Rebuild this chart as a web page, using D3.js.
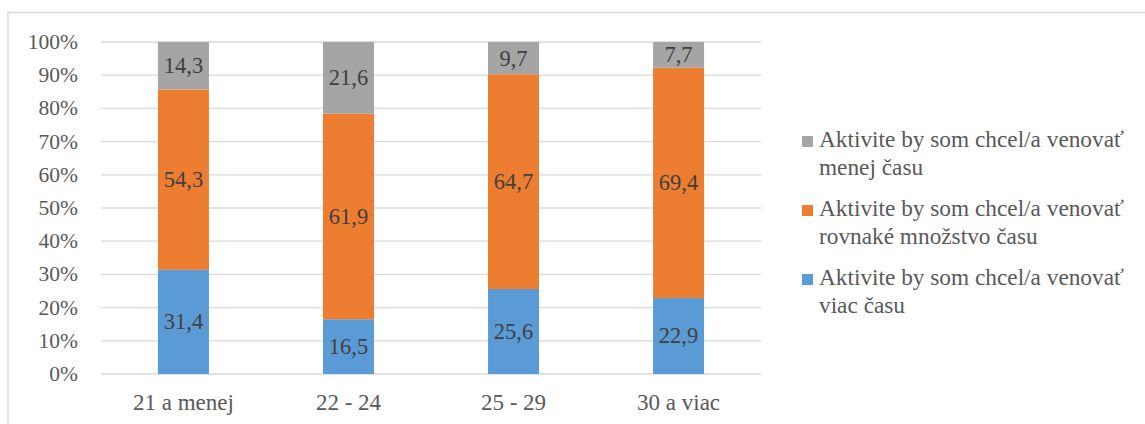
<!DOCTYPE html>
<html><head><meta charset="utf-8">
<script src="https://cdn.jsdelivr.net/npm/d3@7"></script>
<style>
body{margin:0;background:#fff}svg{display:block}
svg text{font-family:"Liberation Serif","Tinos","Times New Roman",serif;}
</style>
</head><body><svg id="c" width="1145" height="424"></svg>
<script>
const categories = ["21 a menej", "22 - 24", "25 - 29", "30 a viac"];
const legendLines = [["Aktivite by som chcel/a venovať", "viac času"], ["Aktivite by som chcel/a venovať", "rovnaké množstvo času"], ["Aktivite by som chcel/a venovať", "menej času"]];
const viac = [31.4, 16.5, 25.6, 22.9];
const rovnake = [54.3, 61.9, 64.7, 69.4];
const menej = [14.3, 21.6, 9.7, 7.7];
const yTicks = [0, 10, 20, 30, 40, 50, 60, 70, 80, 90, 100];
const colors = ["#5B9BD5", "#ED7D31", "#A5A5A5"];
const FONT = "Liberation Serif";

const svg = d3.select("#c");
svg.append("rect").attr("x", 8).attr("y", 12.5).attr("width", 1200).attr("height", 500)
  .attr("fill", "none").attr("stroke", "#D9D9D9").attr("stroke-width", 1.5);

const x = d3.scaleBand().domain(categories).range([101, 761]).paddingInner(0.691).paddingOuter(0.345);
const y = d3.scaleLinear().domain([0, 100]).range([374, 42]);

const rows = categories.map((c, i) => ({cat: c, v0: viac[i], v1: rovnake[i], v2: menej[i]}));
const stack = d3.stack().keys(["v0", "v1", "v2"])(rows);

svg.append("g").selectAll("line").data(yTicks).join("line")
  .attr("x1", 101).attr("x2", 761).attr("y1", d => y(d)).attr("y2", d => y(d))
  .attr("stroke", "#D9D9D9").attr("stroke-width", 1.3);

svg.append("g").selectAll("text").data(yTicks).join("text")
  .attr("x", 78).attr("y", d => y(d)).attr("dy", "0.33em").attr("text-anchor", "end")
  .attr("fill", "#595959").attr("font-family", FONT).attr("font-size", 21.5).text(d => d + "%");

svg.append("g").selectAll("text").data(categories).join("text")
  .attr("x", d => x(d) + x.bandwidth() / 2).attr("y", 410).attr("text-anchor", "middle")
  .attr("fill", "#595959").attr("font-family", FONT).attr("font-size", 23).text(d => d);

const vals = [viac, rovnake, menej];
stack.forEach((s, si) => {
  const g = svg.append("g");
  g.selectAll("rect").data(s).join("rect")
    .attr("x", d => x(d.data.cat)).attr("width", x.bandwidth())
    .attr("y", d => y(d[1])).attr("height", d => y(d[0]) - y(d[1]))
    .attr("fill", colors[si]);
  g.selectAll("text").data(s).join("text")
    .attr("x", d => x(d.data.cat) + x.bandwidth() / 2)
    .attr("y", d => (y(d[0]) + y(d[1])) / 2).attr("dy", "0.33em")
    .attr("text-anchor", "middle").attr("fill", "#404040")
    .attr("font-family", FONT).attr("font-size", 22.5)
    .text((d, i) => String(vals[si][i]).replace(".", ","));
});

const legendOrder = [2, 1, 0];
const lg = svg.append("g");
legendOrder.forEach((si, k) => {
  const base = 147 + k * 69;
  lg.append("rect").attr("x", 802).attr("y", base - 11).attr("width", 11).attr("height", 11).attr("fill", colors[si]);
  legendLines[si].forEach((ln, j) => {
    lg.append("text").attr("x", 819).attr("y", base + j * 28).attr("fill", "#595959")
      .attr("font-family", FONT).attr("font-size", 23.3).text(ln);
  });
});
</script></body></html>
